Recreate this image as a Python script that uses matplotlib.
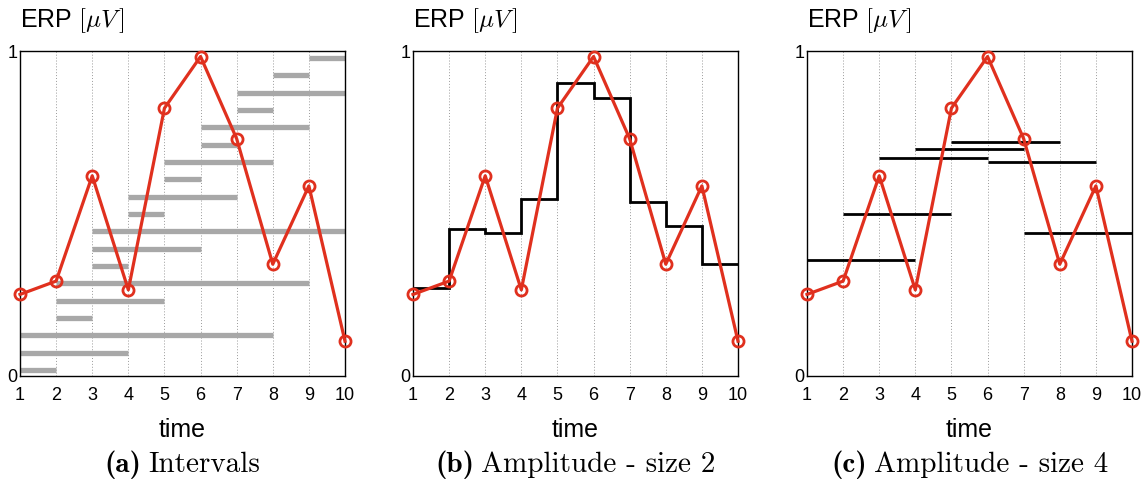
import matplotlib.pyplot as plt
import matplotlib as mpl
import numpy as np

mpl.rcParams['mathtext.fontset'] = 'cm'
mpl.rcParams['font.family'] = ['Liberation Sans', 'DejaVu Sans']

# ERP samples (red curve)
t = [1, 2, 3, 4, 5, 6, 7, 8, 9, 10]
erp = [0.251, 0.292, 0.616, 0.265, 0.824, 0.983, 0.730, 0.344, 0.585, 0.107]

# (a) intervals, bottom to top
int_start = [1, 1, 1, 2, 2, 2, 3, 3, 3, 4, 4, 5, 5, 6, 6, 7, 7, 8, 9]
int_end = [2, 4, 8, 3, 5, 9, 4, 6, 10, 5, 7, 6, 8, 7, 9, 8, 10, 9, 10]

# (b) amplitude, window size 2 (one level per unit interval)
amp2 = [0.270, 0.452, 0.441, 0.544, 0.903, 0.855, 0.535, 0.463, 0.345]

# (c) amplitude, window size 4 (segments start..start+3)
amp4_start = [1, 2, 3, 4, 5, 6, 7]
amp4 = [0.356, 0.498, 0.672, 0.700, 0.719, 0.659, 0.441]

captions = [('(a)', 'Intervals'), ('(b)', 'Amplitude - size 2'), ('(c)', 'Amplitude - size 4')]

RED = '#e0301e'

fig = plt.figure(figsize=(11.42, 4.8), dpi=100)
lefts = [20, 413, 807]
axes = []
for L in lefts:
    ax = fig.add_axes([L / 1142, 104 / 480, 325 / 1142, 325 / 480])
    axes.append(ax)

cap_parts = []
for i, ax in enumerate(axes):
    ax.set_xlim(1, 10)
    ax.set_ylim(0, 1)
    ax.set_xticks(t)
    ax.set_yticks([0, 1])
    ax.tick_params(direction='in', length=0, labelsize=13)
    ax.tick_params(axis='x', pad=8)
    ax.tick_params(axis='y', pad=2)
    for x in t[1:-1]:
        ax.axvline(x, color='#9a9a9a', lw=0.7, ls=(0, (1, 2)), zorder=0)
    for s in ax.spines.values():
        s.set_linewidth(1.0)
    ax.text(0, 1.05, r'ERP $[\mu V\,]$', transform=ax.transAxes, fontsize=18,
            ha='left', va='bottom')
    cx = (lefts[i] + 162.5) / 1142
    fig.text(cx, 1 - 430 / 480, 'time', fontsize=18, ha='center', va='center')
    lab, txt = captions[i]
    tb = fig.text(cx, 1 - 466 / 480, lab, fontsize=21, ha='left', va='baseline',
                  family='cmb10')
    tr = fig.text(cx, 1 - 466 / 480, txt, fontsize=21, ha='left', va='baseline',
                  family='cmr10')
    cap_parts.append((cx, tb, tr))

# centre each caption (bold label + regular text) under its panel
fig.canvas.draw()
r = fig.canvas.get_renderer()
gap = 7
for cx, tb, tr in cap_parts:
    wb = tb.get_window_extent(r).width
    wr = tr.get_window_extent(r).width
    x0 = cx * 1142 - (wb + gap + wr) / 2
    y = 1 - 472 / 480
    tb.set_position((x0 / 1142, y))
    tr.set_position(((x0 + wb + gap) / 1142, y))

# (a) intervals
ax = axes[0]
n = len(int_start)
ys = np.linspace(0.018, 0.978, n)
for s, e, y in zip(int_start, int_end, ys):
    ax.plot([s, e], [y, y], color='#a8a8a8', lw=3.8, solid_capstyle='butt', zorder=1)

# (b) steps
ax = axes[1]
ax.stairs(amp2, t, color='black', lw=2.0, zorder=2, baseline=None)

# (c) segments
ax = axes[2]
for s, v in zip(amp4_start, amp4):
    ax.plot([s, s + 3], [v, v], color='black', lw=2.0, solid_capstyle='butt', zorder=2)

for ax in axes:
    ax.plot(t, erp, color=RED, lw=2.3, marker='o', ms=8, mfc='none', mec=RED,
            mew=2.0, zorder=3, clip_on=False)

fig.savefig('out.png', dpi=100)
